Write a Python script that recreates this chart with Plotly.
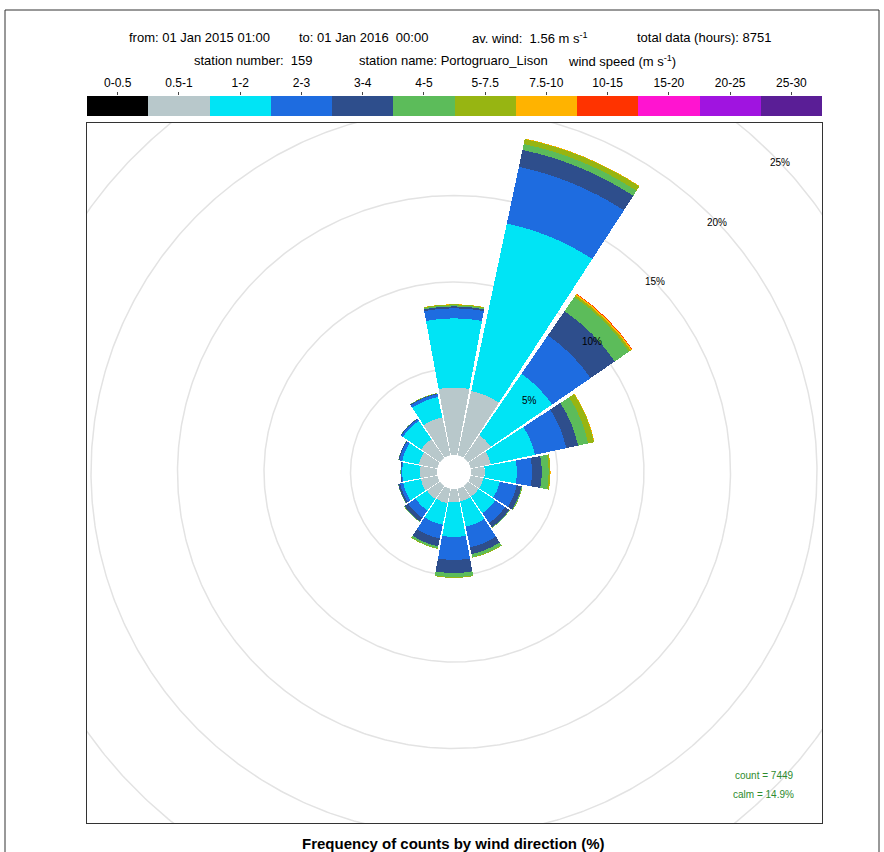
import numpy as np
import plotly.graph_objects as go

# ---------------- data ----------------
directions = ["N", "NNE", "NE", "ENE", "E", "ESE", "SE", "SSE",
              "S", "SSW", "SW", "WSW", "W", "WNW", "NW", "NNW"]
theta_deg = [0, 22.5, 45, 67.5, 90, 112.5, 135, 157.5,
             180, 202.5, 225, 247.5, 270, 292.5, 315, 337.5]

speed_labels = ["0-0.5", "0.5-1", "1-2", "2-3", "3-4", "4-5", "5-7.5",
                "7.5-10", "10-15", "15-20", "20-25", "25-30"]
speed_colors = ["#000000", "#B8C8CB", "#00E4F5", "#1E6CE0", "#2E4E8C",
                "#5CBC5A", "#97B512", "#FFB300", "#FF3300", "#FF14D0",
                "#A014E0", "#5A1E96"]

# frequency (%) per direction, one list per wind speed bin (order N..NNW)
ws_0_05 = [0] * 16
ws_05_1 = [3.9, 3.8, 1.6, 1.2, 0.8, 0.75, 0.75, 0.75, 0.75, 0.87, 0.92, 0.98, 0.98, 1.1, 1.33, 2.25]
ws_1_2 = [4.0, 9.9, 4.3, 2.6, 1.85, 0.98, 1.16, 1.5, 2.02, 1.27, 0.81, 1.04, 1.04, 0.98, 1.27, 1.2]
ws_2_3 = [0.58, 3.35, 2.7, 1.85, 0.87, 0.99, 0.69, 1.22, 1.33, 0.81, 0.52, 0.18, 0.06, 0.17, 0.12, 0.17]
ws_3_4 = [0.11, 1.0, 1.7, 0.7, 0.57, 0.29, 0.29, 0.4, 0.76, 0.46, 0.24, 0.11, 0.03, 0.05, 0.05, 0.04]
ws_4_5 = [0.06, 0.35, 1.0, 0.6, 0.4, 0.04, 0.03, 0.18, 0.23, 0.12, 0.03, 0.02, 0.01, 0.01, 0.01, 0.02]
ws_5_75 = [0.06, 0.3, 0.12, 0.35, 0.1, 0.02, 0.01, 0.04, 0.05, 0.03, 0.01, 0, 0, 0, 0, 0.01]
ws_75_10 = [0.01, 0.03, 0.08, 0.03, 0.01, 0, 0, 0, 0, 0, 0, 0, 0, 0, 0, 0]
ws_10_15 = [0, 0, 0.04, 0, 0, 0, 0, 0, 0, 0, 0, 0, 0, 0, 0, 0]
ws_15_20 = [0] * 16
ws_20_25 = [0] * 16
ws_25_30 = [0] * 16
speed_series = [ws_0_05, ws_05_1, ws_1_2, ws_2_3, ws_3_4, ws_4_5, ws_5_75,
                ws_75_10, ws_10_15, ws_15_20, ws_20_25, ws_25_30]

ring_levels = [5, 10, 15, 20, 25]
ring_labels = ["5%", "10%", "15%", "20%", "25%"]

header_line1 = ["from: 01 Jan 2015 01:00", "to: 01 Jan 2016  00:00",
                "av. wind:  1.56 m s<sup>-1</sup>", "total data (hours): 8751"]
header_line2 = ["station number:  159", "station name: Portogruaro_Lison",
                "wind speed (m s<sup>-1</sup>)"]
count_text = "count = 7449"
calm_text = "calm = 14.9%"
title_text = "<b>Frequency of counts by wind direction (%)</b>"

# ---------------- layout geometry (pixels) ----------------
W, H = 884, 852
cx, cy = 454, 472          # rose centre
hole_px = 17
px_per_pct = 17.3
r_max = 20
R = hole_px + r_max * px_per_pct
box = dict(l=87, r=822, t=123, b=823)
off = hole_px / px_per_pct


def fx(px):
    return px / W


def fy(py):
    return 1 - py / H


fig = go.Figure()

# rings (cartesian, clipped to plot box)
t = np.linspace(0, 2 * np.pi, 721)
for lev in ring_levels:
    rr = lev + off
    fig.add_trace(go.Scatter(x=rr * np.sin(t), y=rr * np.cos(t), mode="lines",
                             line=dict(color="#E3E3E3", width=1.5),
                             hoverinfo="skip", showlegend=False,
                             xaxis="x", yaxis="y"))

# wind rose wedges
for lab, col, vals in zip(speed_labels, speed_colors, speed_series):
    fig.add_trace(go.Barpolar(r=vals, theta=theta_deg, width=[21] * 16,
                              name=lab, marker=dict(color=col, line=dict(width=0)),
                              showlegend=False, subplot="polar"))

# colour key
fig.add_trace(go.Bar(x=speed_labels, y=[1] * 12, width=1,
                     marker=dict(color=speed_colors, line=dict(width=0)),
                     showlegend=False, xaxis="x2", yaxis="y2", hoverinfo="skip"))

xr = [-(cx - box["l"]) / px_per_pct, (box["r"] - cx) / px_per_pct]
yr = [-(box["b"] - cy) / px_per_pct, (cy - box["t"]) / px_per_pct]

fig.update_layout(
    width=W, height=H, margin=dict(l=0, r=0, t=0, b=0),
    paper_bgcolor="white", plot_bgcolor="white",
    font=dict(family="Liberation Sans, Arial, sans-serif", color="black"),
    xaxis=dict(domain=[fx(box["l"]), fx(box["r"])], range=xr, showgrid=False,
               zeroline=False, showticklabels=False, ticks="", showline=True,
               mirror=True, linecolor="#333333", linewidth=1.2, fixedrange=True),
    yaxis=dict(domain=[fy(box["b"]), fy(box["t"])], range=yr, showgrid=False,
               zeroline=False, showticklabels=False, ticks="", showline=True,
               mirror=True, linecolor="#333333", linewidth=1.2, fixedrange=True),
    xaxis2=dict(domain=[fx(box["l"]), fx(box["r"])], anchor="y2", side="top",
                type="category", range=[-0.5, 11.5], showgrid=False, zeroline=False,
                ticks="outside", ticklen=3, tickcolor="#444", tickfont=dict(size=12),
                showline=False),
    yaxis2=dict(domain=[fy(116), fy(96)], anchor="x2", range=[0, 1], visible=False),
    bargap=0,
    polar=dict(
        domain=dict(x=[fx(cx - R), fx(cx + R)], y=[fy(cy + R), fy(cy - R)]),
        bgcolor="rgba(0,0,0,0)", hole=hole_px / R, barmode="stack",
        radialaxis=dict(range=[0, r_max], visible=False, showgrid=False),
        angularaxis=dict(rotation=90, direction="clockwise", visible=False,
                         showgrid=False),
    ),
)

annotations = []
# ring labels at ~46.5 degrees
ang = np.deg2rad(46.5)
for lev, lab in zip(ring_levels, ring_labels):
    rr = lev + off
    annotations.append(dict(x=rr * np.sin(ang), y=rr * np.cos(ang), xref="x", yref="y",
                            text=lab, showarrow=False, font=dict(size=10, color="black")))

line1_x = [127, 297, 470, 635]
for txt, x in zip(header_line1, line1_x):
    annotations.append(dict(x=fx(x), y=fy(38), xref="paper", yref="paper", text=txt,
                            xanchor="left", yanchor="middle", showarrow=False,
                            font=dict(size=13)))
line2_x = [192, 357, 566]
for txt, x in zip(header_line2, line2_x):
    annotations.append(dict(x=fx(x), y=fy(61), xref="paper", yref="paper", text=txt,
                            xanchor="left", yanchor="middle", showarrow=False,
                            font=dict(size=13)))

annotations.append(dict(x=fx(796), y=fy(775), xref="paper", yref="paper", text=count_text,
                        xanchor="right", yanchor="middle", showarrow=False,
                        font=dict(size=10, color="#2E8B2E")))
annotations.append(dict(x=fx(796), y=fy(794), xref="paper", yref="paper", text=calm_text,
                        xanchor="right", yanchor="middle", showarrow=False,
                        font=dict(size=10, color="#2E8B2E")))
annotations.append(dict(x=fx(454), y=fy(843), xref="paper", yref="paper", text=title_text,
                        xanchor="center", yanchor="middle", showarrow=False,
                        font=dict(size=15)))
fig.update_layout(annotations=annotations)

# outer frame
fig.add_shape(type="rect", xref="paper", yref="paper", x0=fx(5), x1=fx(879),
              y0=-0.2, y1=fy(10), line=dict(color="#333333", width=1))

fig.write_html("out.html")
